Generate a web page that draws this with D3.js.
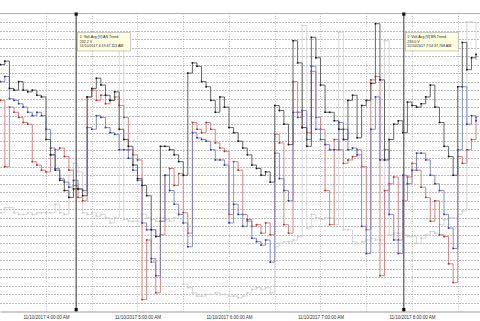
<!DOCTYPE html>
<html><head><meta charset="utf-8">
<script src="https://cdn.jsdelivr.net/npm/d3@7"></script>
<style>body{margin:0;background:#fff}svg{display:block}</style>
</head><body><svg id="c" width="480" height="321"></svg>
<script>
// ---- data ----
const sampleStart = new Date(2017, 10, 10, 3, 30, 0);
const sampleStepMinutes = 3;

// Volt.Avg [V] AN Trend (black)
const anTrend = [
239.5,239.7,238.1,238.0,238.5,238.0,237.9,238.0,237.7,237.6,
235.1,234.2,233.3,232.7,232.1,231.7,232.2,232.2,231.8,237.6,
238.1,238.7,238.3,237.7,237.4,237.9,235.7,235.1,234.7,233.6,
232.8,232.4,231.8,229.8,229.4,234.7,234.7,234.5,234.2,233.8,
233.0,239.0,239.6,239.4,238.5,238.2,237.4,236.7,237.6,237.0,
235.8,235.5,235.0,234.6,234.2,233.6,233.4,233.0,233.2,232.6,
237.1,236.8,236.0,234.8,240.9,239.6,235.8,234.7,241.1,239.9,
238.3,236.7,236.7,236.2,235.7,235.1,237.4,237.7,235.2,237.1,
237.4,238.4,241.9,238.6,233.9,235.1,236.0,236.2,235.5,237.3,
237.1,237.0,237.2,237.6,238.3,237.0,236.1,234.7,234.1,233.0,
238.2,240.8,239.2,239.9,240.1];

// Volt.Avg [V] BN Trend (blue)
const bnTrend = [
238.5,238.8,237.5,237.4,237.2,237.0,236.7,236.5,236.7,236.5,
235.7,234.6,233.4,232.8,232.6,232.3,232.7,232.2,232.1,235.8,
235.7,236.5,236.4,235.8,235.5,235.4,234.5,234.5,234.0,233.3,
232.7,230.2,229.8,228.1,227.1,230.3,233.0,232.1,231.3,230.7,
230.2,228.8,235.5,235.2,235.1,235.0,234.5,233.9,233.9,233.6,
230.2,231.3,230.7,230.0,230.4,229.3,229.1,228.9,229.2,227.9,
234.3,232.8,232.1,231.5,236.7,236.4,236.8,235.1,239.4,235.7,
235.1,234.8,234.5,234.5,236.1,235.7,234.5,234.6,234.2,230.0,
228.4,235.7,237.6,233.9,234.5,230.7,229.2,228.4,233.0,232.5,
233.3,234.3,234.3,233.9,233.0,232.5,232.1,230.7,229.9,228.7,
234.5,238.2,236.0,236.5,236.2];

// Volt.Avg [V] CN Trend (red)
const cnTrend = [
237.4,233.5,237.0,236.7,236.4,236.1,236.0,233.8,233.6,233.3,
233.2,234.2,234.5,234.6,234.1,233.3,232.4,231.7,231.5,237.6,
238.0,237.4,237.7,237.2,237.4,237.6,237.1,236.4,234.5,234.2,
233.9,225.7,229.2,227.9,226.1,229.5,233.0,233.4,232.4,233.1,
230.8,229.6,236.1,235.7,235.5,236.1,235.7,234.9,234.6,234.4,
230.7,233.8,233.3,230.7,230.3,230.0,230.1,229.6,230.2,229.5,
235.4,234.9,230.1,229.6,238.5,236.7,235.8,235.5,239.1,236.4,
235.7,232.1,230.1,235.1,234.5,233.7,233.9,234.1,234.5,233.5,
229.8,238.6,238.8,227.1,232.1,232.5,232.9,229.2,231.5,232.9,
233.7,233.3,232.3,231.7,230.3,231.5,229.5,229.4,227.8,226.7,
234.1,233.7,234.5,235.1,236.4];

// fourth trend (light gray)
const ngTrend = [
230.8,231.1,231.1,230.8,230.7,230.7,230.8,230.7,230.8,230.8,
230.8,230.8,231.3,230.8,230.7,233.0,233.7,233.2,230.8,230.7,
230.8,230.6,230.7,230.5,230.2,230.5,240.4,230.4,230.3,230.3,
230.3,230.7,230.5,230.4,230.3,230.5,230.4,230.3,230.5,230.7,
226.6,226.4,226.1,225.9,225.9,226.0,226.0,226.1,226.0,226.0,
225.9,225.9,225.8,225.9,226.1,226.3,226.4,226.3,226.4,226.1,
228.8,229.0,229.1,229.1,229.2,229.4,241.8,229.9,230.7,230.5,
230.4,230.5,230.5,230.1,241.4,229.8,229.8,229.1,229.0,229.1,
229.2,229.3,229.2,229.2,240.9,229.5,229.6,229.6,229.5,229.4,
229.4,229.0,229.3,229.5,229.7,229.6,230.1,230.4,230.5,230.5,
230.7,230.9,242.0,242.0,239.8];

const tickTimes = [
  new Date(2017,10,10,4,0,0), new Date(2017,10,10,5,0,0), new Date(2017,10,10,6,0,0),
  new Date(2017,10,10,7,0,0), new Date(2017,10,10,8,0,0)];
const tickLabels = ["11/10/2017 4:00:00 AM","11/10/2017 5:00:00 AM","11/10/2017 6:00:00 AM",
  "11/10/2017 7:00:00 AM","11/10/2017 8:00:00 AM"];

const cursorTimes = [new Date(2017,10,10,4,19,47,113), new Date(2017,10,10,7,54,37,768)];
const cursorSeries = ["1: Volt.Avg [V] AN Trend","1: Volt.Avg [V] BN Trend"];
const cursorValues = ["232.2 V","233.0 V"];
const cursorStamps = ["11/10/2017 4:19:47.113 AM","11/10/2017 7:54:37.768 AM"];

// ---- drawing ----
const svg = d3.select("#c");
const W = 480, plotTop = 13.5, plotBottom = 311.5;

const x = d3.scaleTime()
  .domain([new Date(2017,10,10,3,29,50), new Date(2017,10,10,8,44,36)])
  .range([0, W]);
const y = d3.scaleLinear().domain([225, 242.5]).range([plotBottom, plotTop]);

const times = anTrend.map((_, i) => new Date(sampleStart.getTime() + i * sampleStepMinutes * 60000));

// horizontal grid (every 0.5 V)
const gridVals = d3.range(225.5, 242.5, 0.5);
svg.append("g").selectAll("line").data(gridVals).join("line")
  .attr("x1", 0).attr("x2", W)
  .attr("y1", d => Math.round(y(d)) + 0.5).attr("y2", d => Math.round(y(d)) + 0.5)
  .attr("stroke", "#bdbdbd").attr("stroke-width", 1).attr("stroke-dasharray", "2,1");

// vertical grid (every 30 min)
const vGrid = d3.timeMinute.every(30).range(new Date(2017,10,10,3,45), new Date(2017,10,10,8,45));
svg.append("g").selectAll("line").data(vGrid).join("line")
  .attr("x1", d => Math.round(x(d)) + 0.5).attr("x2", d => Math.round(x(d)) + 0.5)
  .attr("y1", plotTop).attr("y2", plotBottom)
  .attr("stroke", "#bdbdbd").attr("stroke-width", 1).attr("stroke-dasharray", "1,1.5");

// top border
svg.append("line").attr("x1", 0).attr("x2", W).attr("y1", plotTop).attr("y2", plotTop)
  .attr("stroke", "#b0b0b0").attr("stroke-width", 1);

// x axis
const xAxis = d3.axisBottom(x).tickValues(tickTimes).tickFormat((d, i) => tickLabels[i]).tickSize(0).tickPadding(3);
const ax = svg.append("g").attr("transform", `translate(0,${plotBottom})`).call(xAxis);
ax.select(".domain").attr("stroke", "#9a9a9a");
ax.selectAll("text").attr("font-family", "Liberation Sans, Arial, sans-serif")
  .attr("font-size", 4.5).attr("fill", "#333").attr("dy", "0.95em");

// series
const series = [
  {vals: ngTrend, line: "#d4d4d4", mark: "#cacaca"},
  {vals: cnTrend, line: "#cc7a7a", mark: "#c02020"},
  {vals: bnTrend, line: "#7880c0", mark: "#2030c0"},
  {vals: anTrend, line: "#555", mark: "#111"}
];
const lineGen = d3.line().x(d => x(d.t)).y(d => y(d.v)).curve(d3.curveStepAfter);
series.forEach(s => {
  const pts = s.vals.map((v, i) => ({t: times[i], v}));
  svg.append("path").datum(pts).attr("d", lineGen)
    .attr("fill", "none").attr("stroke", s.line).attr("stroke-width", 0.9);
  svg.append("g").selectAll("rect").data(pts).join("rect")
    .attr("x", d => x(d.t) - 0.8).attr("y", d => y(d.v) - 0.8)
    .attr("width", 1.6).attr("height", 1.6).attr("fill", s.mark);
});

// cursors
cursorTimes.forEach((t, i) => {
  const cx = x(t);
  const g = svg.append("g");
  g.append("line").attr("x1", cx).attr("x2", cx).attr("y1", plotTop).attr("y2", plotBottom)
    .attr("stroke", "#555").attr("stroke-width", 1.2);
  g.append("rect").attr("x", cx - 1.6).attr("y", plotTop - 1).attr("width", 3.2).attr("height", 3.2).attr("fill", "#111");
  g.append("rect").attr("x", cx - 1.6).attr("y", plotBottom - 3.5).attr("width", 3.2).attr("height", 3.2).attr("fill", "#111");
  g.append("rect").attr("x", cx + 1.5).attr("y", 32.5).attr("width", 53).attr("height", 18.5)
    .attr("fill", "#ffffe0").attr("stroke", "#a8a8a8").attr("stroke-width", 0.6);
  [cursorSeries[i], cursorValues[i], cursorStamps[i]].forEach((txt, k) => {
    g.append("text").attr("x", cx + 3.5).attr("y", 38 + k * 4.7)
      .attr("font-family", "Liberation Sans, Arial, sans-serif").attr("font-size", 3.6)
      .attr("fill", "#222").text(txt);
  });
});
</script>
</body></html>
